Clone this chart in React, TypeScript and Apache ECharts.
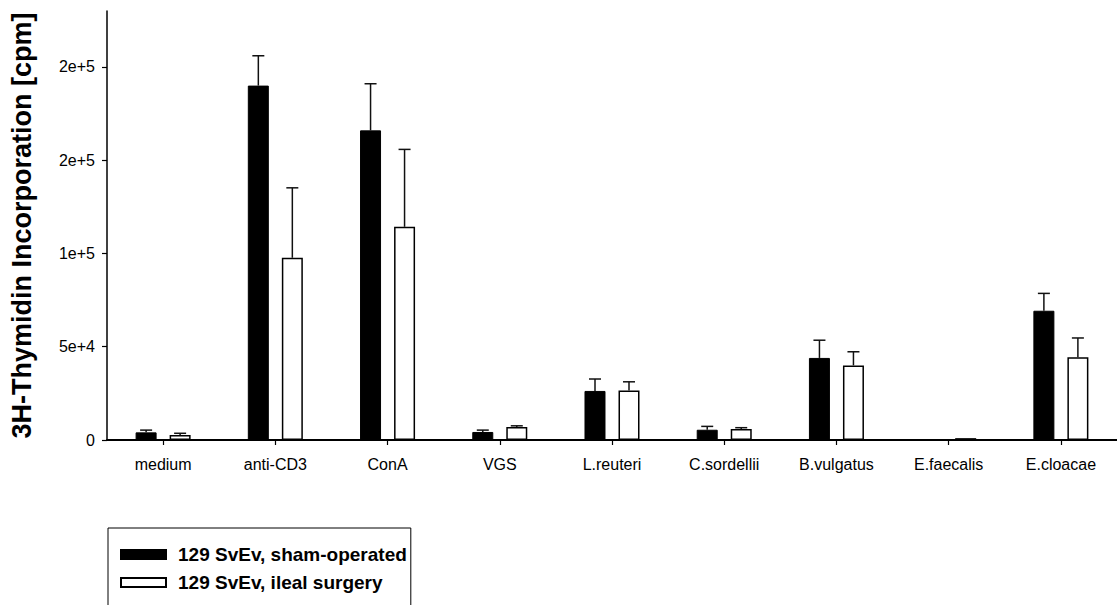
import React, { useEffect, useRef } from "react";
import * as echarts from "echarts";

// Stimuli on the x axis
const categories = [
  "medium",
  "anti-CD3",
  "ConA",
  "VGS",
  "L.reuteri",
  "C.sordellii",
  "B.vulgatus",
  "E.faecalis",
  "E.cloacae",
];

// 129 SvEv, sham-operated: mean cpm and upper error
const shamMeans = [4100, 190000, 166000, 4300, 26300, 5500, 44000, 400, 69300];
const shamErrors = [1200, 16000, 25000, 1000, 6400, 1800, 9500, 0, 9300];

// 129 SvEv, ileal surgery: mean cpm and upper error
const ilealMeans = [2700, 97700, 114300, 7000, 26600, 5900, 40000, 1000, 44300];
const ilealErrors = [900, 37500, 41500, 600, 4600, 700, 7300, 0, 10400];

// y axis ticks and the labels printed at them
const yTickValues = [0, 50000, 100000, 150000, 200000];
const yTickLabels = ["0", "5e+4", "1e+5", "2e+5", "2e+5"];

const seriesNames = ["129 SvEv, sham-operated", "129 SvEv, ileal surgery"];

const FONT = "'Liberation Sans', Arial, Helvetica, sans-serif";
const BAR_WIDTH = 21;
const BAR_GAP_PX = 13;
const CAP_HALF = 6;

function errorSeries(means: number[], errors: number[], offset: number) {
  return {
    type: "custom",
    z: 5,
    silent: true,
    data: means.map((m, i) => [i, m, errors[i]]),
    encode: { x: 0, y: 1 },
    renderItem: (_params: any, api: any) => {
      const cat = api.value(0);
      const v = api.value(1);
      const e = api.value(2);
      if (!e) return { type: "group", children: [] };
      const base = api.coord([cat, v]);
      const top = api.coord([cat, v + e]);
      const x = base[0] + offset;
      const style = { stroke: "#111", lineWidth: 1.5 };
      return {
        type: "group",
        children: [
          { type: "line", shape: { x1: x, y1: base[1], x2: x, y2: top[1] }, style },
          {
            type: "line",
            shape: { x1: x - CAP_HALF, y1: top[1], x2: x + CAP_HALF, y2: top[1] },
            style,
          },
        ],
      };
    },
  };
}

export default function App() {
  const ref = useRef<HTMLDivElement>(null);

  useEffect(() => {
    if (!ref.current) return;
    const chart = echarts.init(ref.current, undefined, { renderer: "svg" });
    const half = (BAR_WIDTH + BAR_GAP_PX) / 2;
    chart.setOption({
      animation: false,
      backgroundColor: "#fff",
      textStyle: { fontFamily: FONT },
      grid: { left: 107, right: 0, top: 11, bottom: 165 },
      legend: {
        show: true,
        orient: "vertical",
        left: 108,
        top: 528,
        height: 120,
        icon: "rect",
        itemWidth: 45,
        itemHeight: 9,
        itemGap: 9,
        padding: [17, 4, 40, 12],
        borderColor: "#000",
        borderWidth: 1,
        selectedMode: false,
        data: seriesNames,
        textStyle: {
          fontFamily: FONT,
          fontSize: 19,
          fontWeight: "bold",
          color: "#000",
          padding: [0, 0, 0, 7],
        },
      },
      xAxis: {
        type: "category",
        data: categories,
        axisLine: { show: true, lineStyle: { color: "#000", width: 2 } },
        axisTick: { show: true, alignWithLabel: true, length: 5, lineStyle: { color: "#000", width: 1.2 } },
        axisLabel: { interval: 0, fontSize: 16, color: "#000", margin: 16, fontFamily: FONT },
        splitLine: { show: false },
      },
      yAxis: {
        type: "value",
        min: 0,
        max: 230000,
        name: "3H-Thymidin Incorporation [cpm]",
        nameLocation: "middle",
        nameGap: 72,
        nameTextStyle: { fontSize: 27, fontWeight: "bold", color: "#000", fontFamily: FONT },
        axisLine: { show: true, lineStyle: { color: "#000", width: 1.5 } },
        axisTick: {
          show: true,
          length: 5,
          customValues: yTickValues,
          lineStyle: { color: "#000", width: 1.2 },
        },
        axisLabel: {
          customValues: yTickValues,
          fontSize: 16,
          color: "#000",
          margin: 12,
          fontFamily: FONT,
          formatter: (v: number) => {
            const idx = yTickValues.indexOf(v);
            return idx >= 0 ? yTickLabels[idx] : "";
          },
        },
        splitLine: { show: false },
      },
      series: [
        {
          name: seriesNames[0],
          type: "bar",
          data: shamMeans,
          barWidth: BAR_WIDTH,
          barGap: `${Math.round((BAR_GAP_PX / BAR_WIDTH) * 100)}%`,
          itemStyle: { color: "#000", borderColor: "#000", borderWidth: 1 },
        },
        {
          name: seriesNames[1],
          type: "bar",
          data: ilealMeans,
          barWidth: BAR_WIDTH,
          itemStyle: { color: "#fff", borderColor: "#000", borderWidth: 1.5 },
        },
        errorSeries(shamMeans, shamErrors, -half),
        errorSeries(ilealMeans, ilealErrors, half),
      ],
    });
    return () => chart.dispose();
  }, []);

  return (
    <div
      ref={ref}
      style={{ position: "fixed", left: 0, top: 0, width: 1117, height: 605, background: "#fff" }}
    />
  );
}
